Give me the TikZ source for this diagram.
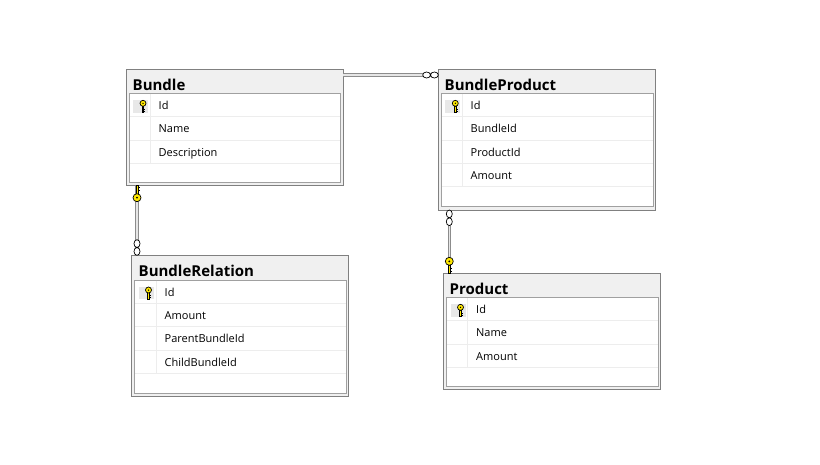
\documentclass[tikz,border=0pt]{standalone}
\usepackage{fontspec}
\setmainfont{Open Sans}
\definecolor{tborder}{HTML}{808080}
\definecolor{tfill}{HTML}{F0F0F0}
\definecolor{iborder}{HTML}{A0A0A0}
\definecolor{rline}{HTML}{EDEDED}
\definecolor{keybg}{HTML}{E8E8E8}
\definecolor{keyyellow}{HTML}{FFE800}
\definecolor{relgray}{HTML}{8C8C8C}
\definecolor{relfill}{HTML}{E6E6E6}
\tikzset{
  pkey/.pic={
    \filldraw[fill=keyyellow, draw=black, line width=0.6pt] (-1,0) rectangle (1,8.5);
    \draw[black, line width=0.8pt] (1,1.5) -- (3,1.5) (1,4.5) -- (3,4.5);
    \filldraw[fill=keyyellow, draw=black, line width=0.7pt] (0,12) circle (4);
    \fill[black] (0,12) circle (1);
  },
  manyend/.pic={
    \filldraw[fill=white, draw=black, line width=0.7pt] (-3.9,0) ellipse (3.9 and 3) (-11.7,0) ellipse (3.9 and 3);
  }
}
\begin{document}
\begin{tikzpicture}[x=1pt, y=-1pt,
  tbl/.style={draw=tborder, fill=tfill, line width=1pt, anchor=north west, inner sep=0, outer sep=0, minimum width=217pt},
  inbox/.style={draw=iborder, fill=white, line width=1pt, anchor=north west, inner sep=0, outer sep=0, minimum width=211.4pt},
  ttl/.style={anchor=base west, inner sep=0, font=\bfseries\fontsize{15}{18}\selectfont},
  fld/.style={anchor=base west, inner sep=0, font=\fontsize{11}{13}\selectfont},
  rowline/.style={draw=rline, line width=0.8pt},
  rel/.style={draw=relgray, double=relfill, line width=1pt, double distance=1.3pt}
]
  \useasboundingbox (0,0) rectangle (820,464);

  % Bundle
  \node[tbl, minimum height=116.7pt] (bundle) at (126,69) {};
  \node[ttl] (bundle-title) at (132.5,90) {Bundle};
  \node[inbox, minimum height=89pt] (bundle-in) at (129.3,93.3) {};
  \fill[keybg] (133,100) rectangle (148,112.7);
  \pic[scale=0.75, yscale=-1] at (143,112.3) {pkey};
  \draw[rowline] (150.5,93.8) -- (150.5,163.3);
  \foreach \f [count=\i] in {Id,Name,Description} {
    \node[fld] (bundle-f\i) at (158.5,93.3+23.33*\i-7) {\f};
    \draw[rowline] (129.8,93.3+23.33*\i) -- (340.2,93.3+23.33*\i);
  }

  % BundleProduct
  \node[tbl, minimum height=141pt] (bundleproduct) at (438.3,69) {};
  \node[ttl] (bundleproduct-title) at (444.5,90) {BundleProduct};
  \node[inbox, minimum height=113.4pt] (bundleproduct-in) at (441.6,93.3) {};
  \fill[keybg] (445.3,100) rectangle (460.3,112.7);
  \pic[scale=0.75, yscale=-1] at (455.3,112.3) {pkey};
  \draw[rowline] (462,93.8) -- (462,186.6);
  \foreach \f [count=\i] in {Id,BundleId,ProductId,Amount} {
    \node[fld] (bundleproduct-f\i) at (470.5,93.3+23.33*\i-7) {\f};
    \draw[rowline] (442.1,93.3+23.33*\i) -- (652.5,93.3+23.33*\i);
  }

  % Product
  \node[tbl, minimum height=116pt] (product) at (443.5,273.3) {};
  \node[ttl] (product-title) at (449.5,294.3) {Product};
  \node[inbox, minimum height=89.4pt] (product-in) at (446.8,297.3) {};
  \fill[keybg] (450.5,304) rectangle (465.5,316.7);
  \pic[scale=0.75, yscale=-1] at (460.5,316.3) {pkey};
  \draw[rowline] (467,297.8) -- (467,367.3);
  \foreach \f [count=\i] in {Id,Name,Amount} {
    \node[fld] (product-f\i) at (476,297.3+23.33*\i-7) {\f};
    \draw[rowline] (447.3,297.3+23.33*\i) -- (657.7,297.3+23.33*\i);
  }

  % BundleRelation
  \node[tbl, minimum height=141.4pt] (bundlerelation) at (131.5,255.3) {};
  \node[ttl] (bundlerelation-title) at (138.5,276.5) {BundleRelation};
  \node[inbox, minimum height=113.3pt] (bundlerelation-in) at (134.8,280) {};
  \fill[keybg] (138.5,286.7) rectangle (153.5,299.4);
  \pic[scale=0.75, yscale=-1] at (148.5,299) {pkey};
  \draw[rowline] (156,280.5) -- (156,373.3);
  \foreach \f [count=\i] in {Id,Amount,ParentBundleId,ChildBundleId} {
    \node[fld] (bundlerelation-f\i) at (164.5,280+23.33*\i-7) {\f};
    \draw[rowline] (135.3,280+23.33*\i) -- (345.7,280+23.33*\i);
  }

  % Relationships
  \draw[rel] ([yshift=-6pt]bundle.north east) -- ([yshift=-6pt]bundleproduct.north west);
  \pic at ([yshift=-6pt]bundleproduct.north west) {manyend};

  \draw[rel] ([xshift=11pt]bundle.south west) -- ([xshift=11pt]bundle.south west |- bundlerelation.north);
  \pic at ([xshift=11pt]bundle.south west) {pkey};
  \pic[rotate=-90] at ([xshift=11pt]bundle.south west |- bundlerelation.north) {manyend};

  \draw[rel] ([xshift=11pt]bundleproduct.south west) -- ([xshift=11pt]bundleproduct.south west |- product.north);
  \pic[rotate=90] at ([xshift=11pt]bundleproduct.south west) {manyend};
  \pic[yscale=-1] at ([xshift=11pt]bundleproduct.south west |- product.north) {pkey};

\end{tikzpicture}
\end{document}
